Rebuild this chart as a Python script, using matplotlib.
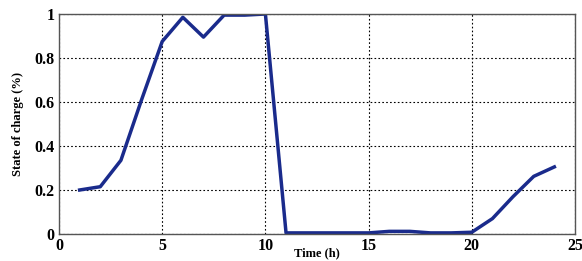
import numpy as np
import matplotlib.pyplot as plt

# state of charge, hourly
hours = [1, 2, 3, 4, 5, 6, 7, 8, 9, 10, 11, 12, 13, 14, 15, 16, 17, 18, 19, 20, 21, 22, 23, 24]
soc = [0.20, 0.215, 0.335, 0.61, 0.875, 0.985, 0.895, 0.995, 0.995, 1.0,
       0.005, 0.005, 0.005, 0.005, 0.005, 0.012, 0.012, 0.005, 0.005, 0.008,
       0.07, 0.17, 0.262, 0.305]

xticks = [0, 5, 10, 15, 20, 25]
yticks = [0, 0.2, 0.4, 0.6, 0.8, 1]
ytick_labels = ['0', '0.2', '0.4', '0.6', '0.8', '1']

plt.rcParams['font.family'] = ['Liberation Serif', 'DejaVu Serif']
plt.rcParams['font.weight'] = 'bold'

fig = plt.figure(figsize=(5.82, 2.61), dpi=100)
ax = fig.add_axes([59 / 582, 1 - 234 / 261, 516 / 582, 220 / 261])

ax.plot(hours, soc, color='#1a2b8c', linewidth=2.5)

ax.set_xlim(0, 25)
ax.set_ylim(0, 1)
ax.set_xticks(xticks)
ax.set_yticks(yticks)
ax.set_yticklabels(ytick_labels)
ax.grid(True, color='black', linestyle=(0, (1.5, 2)), linewidth=0.8)
ax.tick_params(direction='in', length=0, labelsize=11.5, pad=3)
for lbl in ax.get_xticklabels() + ax.get_yticklabels():
    lbl.set_fontweight('bold')
for s in ax.spines.values():
    s.set_color('#555555')
    s.set_linewidth(1.0)

ax.set_xlabel('Time (h)', fontsize=9, fontweight='bold', labelpad=-5)
ax.set_ylabel('State of charge (%)', fontsize=9, fontweight='bold', labelpad=8)

fig.savefig('out.png', dpi=100)
